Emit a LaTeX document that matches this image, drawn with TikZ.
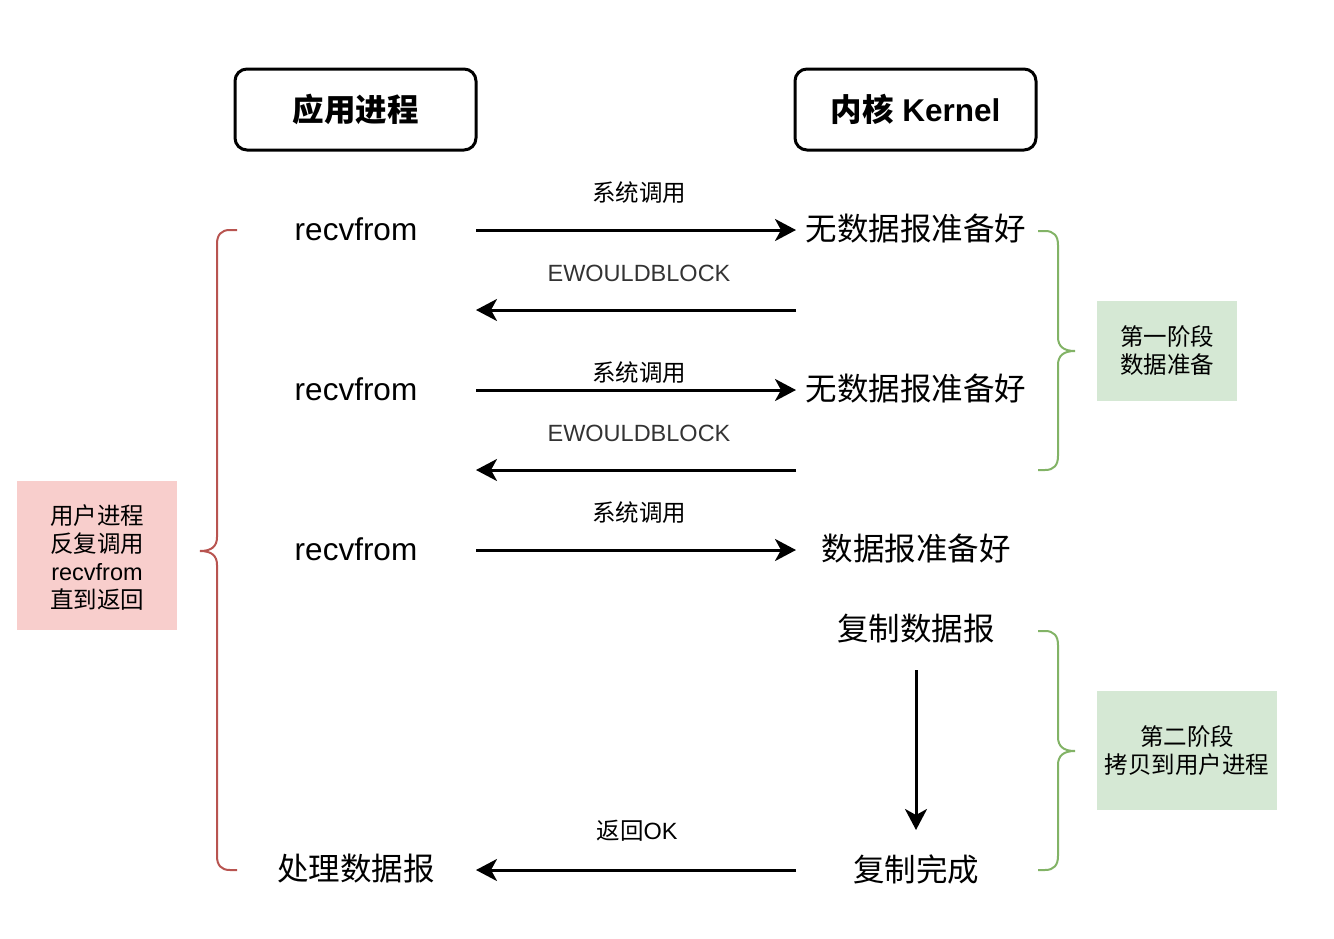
\documentclass[tikz,border=0pt]{standalone}
\usepackage{fontspec}
\setmainfont{Liberation Sans}
\newfontfamily\cjk{Noto Sans CJK SC}
\usetikzlibrary{arrows.meta}
\definecolor{redline}{HTML}{B85450}
\definecolor{redfill}{HTML}{F8CECC}
\definecolor{greenline}{HTML}{82B366}
\definecolor{greenfill}{HTML}{D5E8D4}
\definecolor{graytext}{HTML}{333333}
\tikzset{
  titlebox/.style={draw=black, line width=3pt, rounded corners=12pt, minimum width=241pt, minimum height=81pt, inner sep=0pt, font=\fontsize{31.5}{36}\selectfont\bfseries},
  bigtext/.style={inner sep=0pt, font=\fontsize{31.5}{36}\selectfont},
  smalltext/.style={inner sep=0pt, font=\fontsize{23.5}{28}\selectfont},
  notebox/.style={inner sep=0pt, align=center, font=\fontsize{23.5}{28}\selectfont},
  flow/.style={line width=3pt, -{Stealth[length=21pt, width=22pt, inset=6pt]}},
  brace/.style={line width=2pt}
}
\begin{document}
\begin{tikzpicture}[x=1pt,y=-1pt]
\useasboundingbox (0,0) rectangle (1334,938);
% title boxes
\node[titlebox] (app) at (355.5,109.5) {\cjk 应用进程};
\node[titlebox] (kern) at (915.5,109.5) {{\cjk 内核} Kernel};
% left column
\node[bigtext] (l1) at (356,229) {recvfrom};
\node[bigtext] (l2) at (356,389) {recvfrom};
\node[bigtext] (l3) at (356,549) {recvfrom};
\node[bigtext] (l4) at (356,869) {\cjk 处理数据报};
% right column
\node[bigtext] (r1) at (916,229) {\cjk 无数据报准备好};
\node[bigtext] (r2) at (916,389) {\cjk 无数据报准备好};
\node[bigtext] (r3) at (916,549) {\cjk 数据报准备好};
\node[bigtext] (r4) at (916,629) {\cjk 复制数据报};
\node[bigtext] (r5) at (916,869) {\cjk 复制完成};
% arrow end points
\coordinate (a1s) at (476,230); \coordinate (a1e) at (796,230);
\coordinate (a2s) at (796,310); \coordinate (a2e) at (476,310);
\coordinate (a3s) at (476,390); \coordinate (a3e) at (796,390);
\coordinate (a4s) at (796,470); \coordinate (a4e) at (476,470);
\coordinate (a5s) at (476,550); \coordinate (a5e) at (796,550);
\coordinate (a6s) at (796,870); \coordinate (a6e) at (476,870);
\coordinate (vs) at (916,670); \coordinate (ve) at (916,830);
\draw[flow] (a1s) -- (a1e);
\draw[flow] (a2s) -- (a2e);
\draw[flow] (a3s) -- (a3e);
\draw[flow] (a4s) -- (a4e);
\draw[flow] (a5s) -- (a5e);
\draw[flow] (a6s) -- (a6e);
\draw[flow] (vs) -- (ve);
% arrow labels
\node[smalltext] (t1) at (639,193) {\cjk 系统调用};
\node[smalltext, text=graytext] (t2) at (639,273) {EWOULDBLOCK};
\node[smalltext] (t3) at (639,373) {\cjk 系统调用};
\node[smalltext, text=graytext] (t4) at (639,433) {EWOULDBLOCK};
\node[smalltext] (t5) at (639,513) {\cjk 系统调用};
\node[smalltext] (t6) at (637,831) {{\cjk 返回}OK};
% red brace
\draw[brace, draw=redline] (237,230) -- (230,230) .. controls (221,230) and (217,235) .. (217,244)
  -- (217,537) .. controls (217,546) and (212,551) .. (200,551)
  .. controls (212,551) and (217,556) .. (217,565)
  -- (217,856) .. controls (217,865) and (221,870) .. (230,870) -- (237,870);
% green braces
\draw[brace, draw=greenline] (1038,231) -- (1045,231) .. controls (1054,231) and (1058,236) .. (1058,245)
  -- (1058,337) .. controls (1058,346) and (1063,351) .. (1075,351)
  .. controls (1063,351) and (1058,356) .. (1058,365)
  -- (1058,456) .. controls (1058,465) and (1054,470) .. (1045,470) -- (1038,470);
\draw[brace, draw=greenline] (1038,631) -- (1045,631) .. controls (1054,631) and (1058,636) .. (1058,645)
  -- (1058,737) .. controls (1058,746) and (1063,751) .. (1075,751)
  .. controls (1063,751) and (1058,756) .. (1058,765)
  -- (1058,856) .. controls (1058,865) and (1054,870) .. (1045,870) -- (1038,870);
% note boxes
\fill[redfill] (17,481) rectangle (177,630);
\node[notebox] (n1) at (97,557) {{\cjk 用户进程}\\{\cjk 反复调用}\\recvfrom\\{\cjk 直到返回}};
\fill[greenfill] (1097,301) rectangle (1237,401);
\node[notebox] (n2) at (1167,351) {{\cjk 第一阶段}\\{\cjk 数据准备}};
\fill[greenfill] (1097,691) rectangle (1277,810);
\node[notebox] (n3) at (1187,751) {{\cjk 第二阶段}\\{\cjk 拷贝到用户进程}};
\end{tikzpicture}
\end{document}
